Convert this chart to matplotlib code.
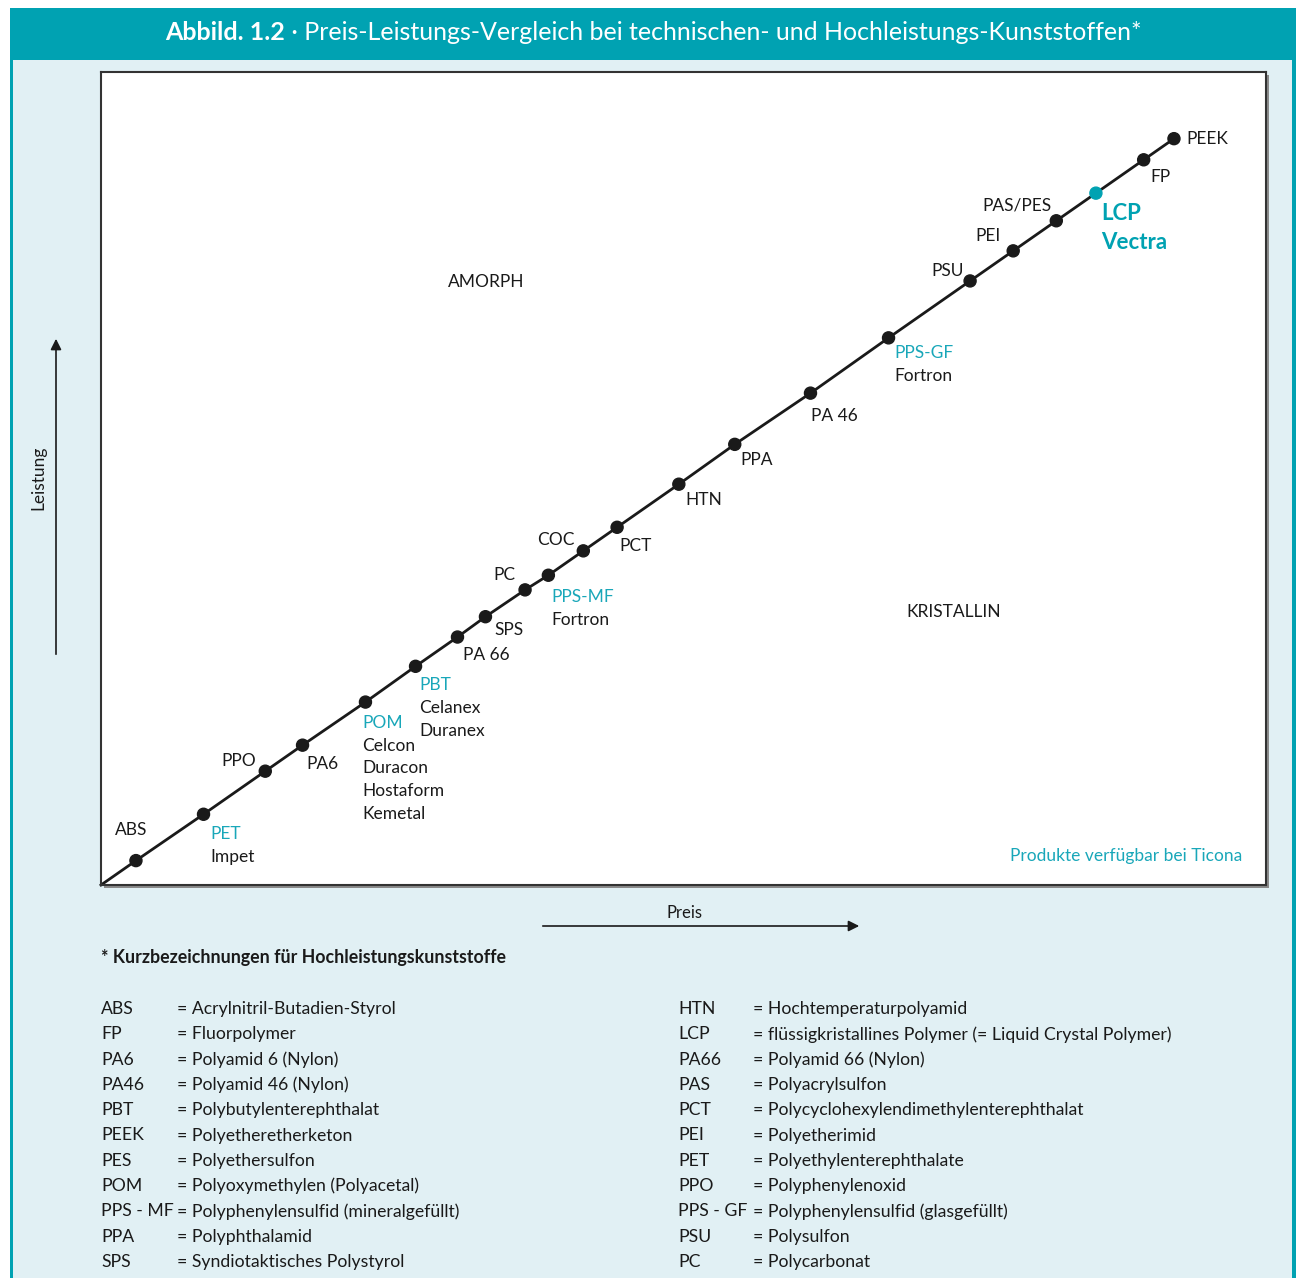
import matplotlib.pyplot as plt
from matplotlib.patches import Rectangle

# Werte (Preis-Index, Leistungs-Index)
kunststoffe = ["ABS", "PET", "PPO", "PA6", "POM", "PBT", "PA 66", "SPS", "PC", "PPS-MF", "COC",
               "PCT", "HTN", "PPA", "PA 46", "PPS-GF", "PSU", "PEI", "PAS/PES", "LCP", "FP", "PEEK"]
preis = [3.0, 8.8, 14.1, 17.3, 22.7, 27.0, 30.6, 33.0, 36.4, 38.4, 41.4,
         44.3, 49.6, 54.4, 60.9, 67.6, 74.6, 78.3, 82.0, 85.4, 89.5, 92.1]
leistung = [3.0, 8.7, 14.0, 17.2, 22.5, 26.9, 30.5, 33.0, 36.3, 38.1, 41.1,
            44.0, 49.3, 54.2, 60.5, 67.3, 74.3, 78.0, 81.7, 85.1, 89.2, 91.8]
ticona = {"PET": ["Impet"], "POM": ["Celcon", "Duracon", "Hostaform", "Kemetal"],
          "PBT": ["Celanex", "Duranex"], "PPS-MF": ["Fortron"], "PPS-GF": ["Fortron"],
          "LCP": ["Vectra"]}

legende_links = [("ABS", "Acrylnitril-Butadien-Styrol"), ("FP", "Fluorpolymer"),
                 ("PA6", "Polyamid 6 (Nylon)"), ("PA46", "Polyamid 46 (Nylon)"),
                 ("PBT", "Polybutylenterephthalat"), ("PEEK", "Polyetheretherketon"),
                 ("PES", "Polyethersulfon"), ("POM", "Polyoxymethylen (Polyacetal)"),
                 ("PPS - MF", "Polyphenylensulfid (mineralgefüllt)"), ("PPA", "Polyphthalamid"),
                 ("SPS", "Syndiotaktisches Polystyrol")]
legende_rechts = [("HTN", "Hochtemperaturpolyamid"),
                  ("LCP", "flüssigkristallines Polymer (= Liquid Crystal Polymer)"),
                  ("PA66", "Polyamid 66 (Nylon)"), ("PAS", "Polyacrylsulfon"),
                  ("PCT", "Polycyclohexylendimethylenterephthalat"), ("PEI", "Polyetherimid"),
                  ("PET", "Polyethylenterephthalate"), ("PPO", "Polyphenylenoxid"),
                  ("PPS - GF", "Polyphenylensulfid (glasgefüllt)"), ("PSU", "Polysulfon"),
                  ("PC", "Polycarbonat")]

TEAL = "#00a2b2"
TEAL_TXT = "#19a7b9"
HELL = "#e1f0f4"
plt.rcParams['font.family'] = ["Lato", 'DejaVu Sans']

W, H = 1300, 1278
fig = plt.figure(figsize=(W / 100, H / 100), dpi=100)
fig.patch.set_facecolor("white")


def fx(px):
    return px / W


def fy(py):
    return 1 - py / H


# Rahmen und Kopfzeile
fig.add_artist(Rectangle((fx(10), 0), fx(1286), fy(8), transform=fig.transFigure,
                         facecolor=TEAL, edgecolor="none", zorder=-3))
fig.add_artist(Rectangle((fx(13), 0), fx(1279), fy(60), transform=fig.transFigure,
                         facecolor=HELL, edgecolor="none", zorder=-2))
# Schatten des Diagrammkastens
fig.add_artist(Rectangle((fx(104), fy(888)), fx(1165), 813 / H, transform=fig.transFigure,
                         facecolor="#8a8a8a", edgecolor="none", zorder=-1))

t1 = fig.text(0, fy(33), "Abbild. 1.2", color="white", fontsize=18, fontweight="bold",
              va="center", ha="left")
t2 = fig.text(0, fy(33), " · Preis-Leistungs-Vergleich bei technischen- und Hochleistungs-Kunststoffen*",
              color="white", fontsize=18, va="center", ha="left")
fig.canvas.draw()
r = fig.canvas.get_renderer()
w1 = t1.get_window_extent(r).width
w2 = t2.get_window_extent(r).width
x0 = 653 - (w1 + w2) / 2
t1.set_x(fx(x0))
t2.set_x(fx(x0 + w1))

ax = fig.add_axes([fx(101), fy(885), fx(1165), 813 / H])
ax.set_facecolor("white")
for s in ax.spines.values():
    s.set_color("#333333")
    s.set_linewidth(1.5)
ax.set_xlim(0, 100)
ax.set_ylim(0, 100)
ax.set_xticks([])
ax.set_yticks([])

ax.plot([0] + preis, [0] + leistung, color="#1a1a1a", lw=2, zorder=2, clip_on=False)
farben = [TEAL if k == "LCP" else "#1a1a1a" for k in kunststoffe]
ax.scatter(preis, leistung, s=75, c=farben, zorder=3)

# Beschriftungs-Versatz in Pixeln (dx, dy, ha)
versatz = {"ABS": (-21, 31, "left"), "PET": (7, -20, "left"), "PPO": (-9, 10, "right"),
           "PA6": (4, -19, "left"), "POM": (-3, -21, "left"), "PBT": (4, -19, "left"),
           "PA 66": (6, -18, "left"), "SPS": (9, -13, "left"), "PC": (-10, 15, "right"),
           "PPS-MF": (3, -22, "left"), "COC": (-9, 11, "right"), "PCT": (2, -19, "left"),
           "HTN": (7, -16, "left"), "PPA": (6, -16, "left"), "PA 46": (1, -23, "left"),
           "PPS-GF": (6, -15, "left"), "PSU": (-6, 10, "right"), "PEI": (-13, 15, "right"),
           "PAS/PES": (-5, 15, "right"), "LCP": (5, -20, "left"), "FP": (7, -17, "left"),
           "PEEK": (12, 0, "left")}

FS = 12.5
for k, x, y in zip(kunststoffe, preis, leistung):
    dx, dy, ha = versatz[k]
    if k == "LCP":
        ax.annotate(k, (x, y), xytext=(dx, dy), textcoords="offset pixels", ha=ha, va="center",
                    color=TEAL, fontsize=16, fontweight="bold")
        for i, z in enumerate(ticona[k]):
            ax.annotate(z, (x, y), xytext=(dx, dy - 29 * (i + 1)), textcoords="offset pixels",
                        ha=ha, va="center", color=TEAL, fontsize=16, fontweight="bold")
        continue
    farbe = TEAL_TXT if k in ticona else "#1a1a1a"
    ax.annotate(k, (x, y), xytext=(dx, dy), textcoords="offset pixels", ha=ha, va="center",
                color=farbe, fontsize=FS)
    for i, z in enumerate(ticona.get(k, [])):
        ax.annotate(z, (x, y), xytext=(dx, dy - 22.7 * (i + 1)), textcoords="offset pixels",
                    ha=ha, va="center", color="#1a1a1a", fontsize=FS)

ax.text(29.8, 74.2, "AMORPH", fontsize=FS, ha="left", va="center", color="#1a1a1a")
ax.text(69.1, 33.6, "KRISTALLIN", fontsize=FS, ha="left", va="center", color="#1a1a1a")
ax.text(98.0, 3.6, "Produkte verfügbar bei Ticona", fontsize=FS, ha="right", va="center",
        color=TEAL_TXT)

# Achsenpfeile
ax.annotate("", xy=(fx(56), fy(336)), xytext=(fx(56), fy(657)), xycoords="figure fraction",
            textcoords="figure fraction", annotation_clip=False,
            arrowprops=dict(arrowstyle="-|>", color="#1a1a1a", lw=1.2, mutation_scale=16))
ax.annotate("", xy=(fx(862), fy(926)), xytext=(fx(540), fy(926)), xycoords="figure fraction",
            textcoords="figure fraction", annotation_clip=False,
            arrowprops=dict(arrowstyle="-|>", color="#1a1a1a", lw=1.2, mutation_scale=16))
fig.text(fx(38), fy(478), "Leistung", rotation=90, fontsize=12.5, ha="center", va="center",
         color="#1a1a1a")
fig.text(fx(684), fy(913), "Preis", fontsize=12, ha="center", va="center", color="#1a1a1a")

# Legende
fig.text(fx(101), fy(958), "* Kurzbezeichnungen für Hochleistungskunststoffe", fontsize=12.8,
         fontweight="bold", ha="left", va="center", color="#1a1a1a")
for spalte, xa, xe in [(legende_links, 101, 177), (legende_rechts, 678, 753)]:
    for i, (abk, name) in enumerate(spalte):
        yy = fy(1009 + 25.3 * i)
        fig.text(fx(xa), yy, abk, fontsize=12.7, ha="left", va="center", color="#1a1a1a")
        fig.text(fx(xe), yy, "= " + name, fontsize=12.7, ha="left", va="center", color="#1a1a1a")

fig.savefig("out.png", dpi=100)
